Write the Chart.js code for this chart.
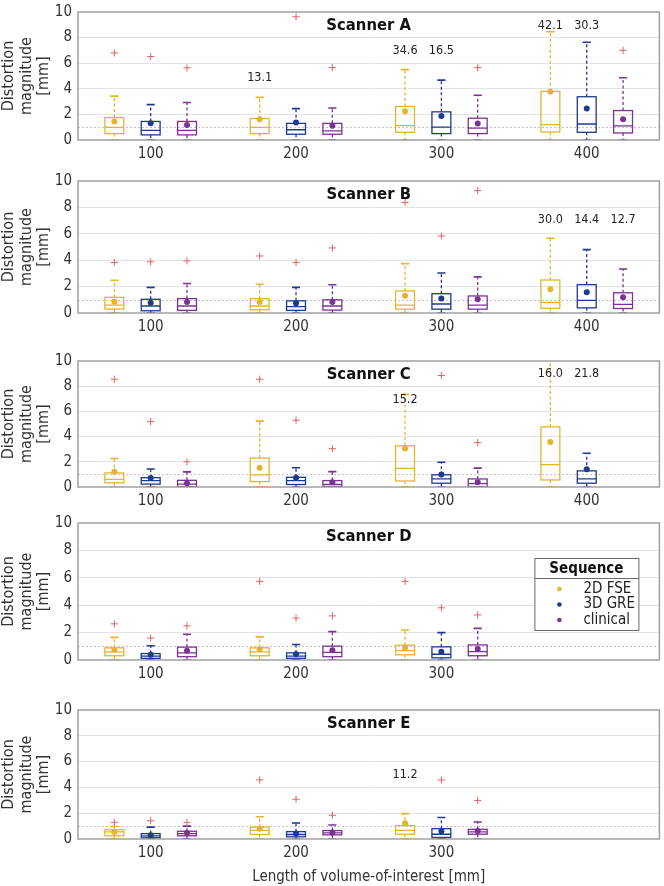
<!DOCTYPE html>
<html><head><meta charset="utf-8">
<script src="https://cdn.jsdelivr.net/npm/chart.js@4.4.1/dist/chart.umd.min.js"></script>
<style>
html,body{margin:0;padding:0;background:#fff;width:664px;height:886px;overflow:hidden;position:relative}
.panel{position:absolute;left:0;width:664px}
</style></head><body>
<script>
// ---------------- DATA ----------------
const seriesNames = ['2D FSE', '3D GRE', 'clinical'];
const catsABC = [100, 200, 300, 400];
const catsDE = [100, 200, 300];
const yTicks = [0, 2, 4, 6, 8, 10];
const refLineValue = 1;

// Scanner A  (rows: 2D FSE, 3D GRE, clinical; cols: 100,200,300,400)
const A_low  = [[0,0,0,0],[0,0,0,0],[0,0,0,0]];
const A_q1   = [[0.50,0.50,0.60,0.63],[0.40,0.45,0.50,0.60],[0.40,0.45,0.50,0.55]];
const A_med  = [[0.98,0.98,1.12,1.20],[0.75,0.80,1.00,1.25],[0.75,0.72,0.93,1.10]];
const A_q3   = [[1.75,1.68,2.62,3.80],[1.45,1.30,2.20,3.38],[1.45,1.30,1.70,2.30]];
const A_high = [[3.43,3.33,5.50,8.46],[2.76,2.45,4.68,7.64],[2.93,2.50,3.50,4.86]];
const A_mean = [[1.45,1.63,2.25,3.76],[1.30,1.36,1.88,2.46],[1.18,1.12,1.28,1.63]];
const A_outliers = [[0,0,6.80],[0,1,6.52],[0,2,5.64],[1,1,9.63],[1,2,5.66],[2,2,5.66],[3,2,7.00]];
const A_notes = [[1,0,'13.1',4.90],[2,0,'34.6',7.00],[2,1,'16.5',7.00],[3,0,'42.1',8.96],[3,1,'30.3',8.96]];

// Scanner B
const B_low  = [[0,0,0,0],[0,0,0,0],[0,0,0,0]];
const B_q1   = [[0.30,0.25,0.29,0.36],[0.17,0.20,0.29,0.39],[0.20,0.22,0.29,0.34]];
const B_med  = [[0.60,0.53,0.60,0.80],[0.53,0.48,0.68,0.95],[0.53,0.53,0.60,0.66]];
const B_q3   = [[1.19,1.09,1.67,2.50],[1.04,0.92,1.46,2.15],[1.09,1.00,1.29,1.53]];
const B_high = [[2.48,2.18,3.74,5.66],[1.94,1.94,3.03,4.80],[2.23,2.14,2.74,3.33]];
const B_mean = [[0.85,0.83,1.31,1.80],[0.78,0.73,1.09,1.58],[0.83,0.83,1.04,1.19]];
const B_outliers = [[0,0,3.83],[0,1,3.88],[0,2,3.95],[1,0,4.32],[1,1,3.83],[1,2,4.93],[2,0,8.37],[2,1,5.83],[2,2,9.27]];
const B_notes = [[3,0,'30.0',7.04],[3,1,'14.4',7.04],[3,2,'12.7',7.04]];

// Scanner C (no clinical at 400)
const C_low  = [[0,0,0,0],[0,0,0,0],[0,0,0,null]];
const C_q1   = [[0.33,0.43,0.48,0.56],[0.23,0.20,0.30,0.30],[0.02,0.02,0.02,null]];
const C_med  = [[0.61,0.97,1.48,1.78],[0.50,0.51,0.64,0.64],[0.23,0.20,0.26,null]];
const C_q3   = [[1.12,2.30,3.27,4.77],[0.74,0.77,0.97,1.28],[0.53,0.51,0.64,null]];
const C_high = [[2.26,5.23,7.35,10.5],[1.43,1.53,1.96,2.68],[1.20,1.22,1.50,null]];
const C_mean = [[1.22,1.53,3.06,3.57],[0.72,0.74,1.00,1.40],[0.30,0.38,0.38,null]];
const C_outliers = [[0,0,8.55],[0,1,5.19],[0,2,2.00],[1,0,8.55],[1,1,5.30],[1,2,3.04],[2,1,8.85],[2,2,3.52]];
const C_notes = [[2,0,'15.2',6.94],[3,0,'16.0',8.98],[3,1,'21.8',8.98]];

// Scanner D (cols: 100,200,300)
const D_low  = [[0,0,0],[0,0,0],[0,0,0]];
const D_q1   = [[0.31,0.31,0.38],[0.12,0.12,0.16],[0.24,0.24,0.31]];
const D_med  = [[0.59,0.59,0.68],[0.28,0.28,0.42],[0.52,0.56,0.61]];
const D_q3   = [[0.89,0.89,1.08],[0.47,0.52,0.96],[0.94,1.01,1.10]];
const D_high = [[1.65,1.69,2.19],[1.04,1.13,2.00],[1.88,2.07,2.31]];
const D_mean = [[0.75,0.78,0.87],[0.38,0.42,0.61],[0.68,0.71,0.80]];
const D_outliers = [[0,0,2.64],[0,1,1.60],[0,2,2.49],[1,0,5.74],[1,1,3.06],[1,2,3.22],[2,0,5.74],[2,1,3.81],[2,2,3.29]];
const D_notes = [];

// Scanner E
const E_low  = [[0,0,0],[0,0,0],[0,0,0]];
const E_q1   = [[0.25,0.35,0.37],[0.10,0.17,0.12],[0.25,0.32,0.37]];
const E_med  = [[0.55,0.67,0.67],[0.25,0.35,0.37],[0.42,0.47,0.55]];
const E_q3   = [[0.72,0.92,1.04],[0.42,0.57,0.80],[0.60,0.65,0.75]];
const E_high = [[0.97,1.72,1.97],[0.92,1.24,1.67],[1.00,1.09,1.32]];
const E_mean = [[0.55,0.80,1.22],[0.30,0.42,0.60],[0.47,0.50,0.62]];
const E_outliers = [[0,0,1.29],[0,1,1.42],[0,2,1.29],[1,0,4.58],[1,1,3.08],[1,2,1.84],[2,1,4.58],[2,2,2.99]];
const E_notes = [[2,0,'11.2',4.98]];

// ---------------- STYLE ----------------
const FONT = '"DejaVu Sans Condensed", "DejaVu Sans", sans-serif';
const seriesColors = ['#e6b32e', '#1d3a8f', '#7b3294'];
const outlierColor = '#e36262';
const OFF = [-25, 0, 25];      // x offset (axis units) of each series within a group
const BOX_HALF = 6.5;          // half box width (axis units)
const CAP_HALF = 2.8;          // half cap width (axis units)

const panels = [
  {title:'Scanner A', cats:catsABC, low:A_low, q1:A_q1, med:A_med, q3:A_q3, high:A_high, mean:A_mean, outliers:A_outliers, notes:A_notes, top:7,   bottom:140},
  {title:'Scanner B', cats:catsABC, low:B_low, q1:B_q1, med:B_med, q3:B_q3, high:B_high, mean:B_mean, outliers:B_outliers, notes:B_notes, top:176, bottom:313},
  {title:'Scanner C', cats:catsABC, low:C_low, q1:C_q1, med:C_med, q3:C_q3, high:C_high, mean:C_mean, outliers:C_outliers, notes:C_notes, top:356, bottom:487},
  {title:'Scanner D', cats:catsDE,  low:D_low, q1:D_q1, med:D_med, q3:D_q3, high:D_high, mean:D_mean, outliers:D_outliers, notes:D_notes, top:518, bottom:660, legend:true},
  {title:'Scanner E', cats:catsDE,  low:E_low, q1:E_q1, med:E_med, q3:E_q3, high:E_high, mean:E_mean, outliers:E_outliers, notes:E_notes, top:705, bottom:839, xTitle:true},
];

function boxPlugin(cfg){
  return {
    id:'boxes',
    beforeDatasetsDraw(chart){
      const {ctx, chartArea:a, scales:{x, y}} = chart;
      ctx.save();
      ctx.beginPath(); ctx.rect(a.left, a.top, a.right-a.left, a.bottom-a.top); ctx.clip();
      // dotted reference line
      const yr = Math.round(y.getPixelForValue(refLineValue)) + 0.5;
      ctx.strokeStyle = '#c4c4c4'; ctx.lineWidth = 1; ctx.setLineDash([2,2]);
      ctx.beginPath(); ctx.moveTo(a.left, yr); ctx.lineTo(a.right, yr); ctx.stroke();
      seriesNames.forEach((n, s) => {
        cfg.cats.forEach((c, i) => {
          const q1 = cfg.q1[s][i];
          if (q1 == null) return;
          const col = seriesColors[s];
          const xc = x.getPixelForValue(c + OFF[s]);
          const xl = x.getPixelForValue(c + OFF[s] - BOX_HALF);
          const xr = x.getPixelForValue(c + OFF[s] + BOX_HALF);
          const cl = x.getPixelForValue(c + OFF[s] - CAP_HALF);
          const cr = x.getPixelForValue(c + OFF[s] + CAP_HALF);
          const yq1 = y.getPixelForValue(q1), yq3 = y.getPixelForValue(cfg.q3[s][i]);
          const ym = y.getPixelForValue(cfg.med[s][i]);
          const yl = y.getPixelForValue(cfg.low[s][i]), yh = y.getPixelForValue(cfg.high[s][i]);
          ctx.strokeStyle = col; ctx.lineWidth = 1.3;
          // whiskers (dashed)
          ctx.setLineDash([3,2.5]);
          ctx.beginPath();
          ctx.moveTo(xc, yq3); ctx.lineTo(xc, yh);
          ctx.moveTo(xc, yq1); ctx.lineTo(xc, yl);
          ctx.stroke();
          // caps
          ctx.setLineDash([]);
          ctx.lineWidth = 1.6;
          ctx.beginPath();
          ctx.moveTo(cl, yh); ctx.lineTo(cr, yh);
          ctx.moveTo(cl, yl); ctx.lineTo(cr, yl);
          ctx.stroke();
          // box
          ctx.lineWidth = 1.3;
          ctx.strokeRect(xl, yq3, xr - xl, yq1 - yq3);
          // median
          ctx.beginPath(); ctx.moveTo(xl, ym); ctx.lineTo(xr, ym); ctx.stroke();
        });
      });
      ctx.restore();
    },
    afterDraw(chart){
      const {ctx, chartArea:a, scales:{x, y}} = chart;
      ctx.save();
      // frame
      ctx.strokeStyle = '#9b9b9b'; ctx.lineWidth = 1.4; ctx.setLineDash([]);
      ctx.strokeRect(a.left, a.top, a.right - a.left, a.bottom - a.top);
      // title
      ctx.fillStyle = '#111';
      ctx.font = 'bold 16.5px ' + FONT;
      ctx.textAlign = 'center'; ctx.textBaseline = 'middle';
      ctx.fillText(cfg.title, (a.left + a.right) / 2, a.top + 14);
      // notes for off-scale values
      ctx.font = '12.5px ' + FONT;
      ctx.fillStyle = '#222';
      cfg.notes.forEach(nt => {
        const xp = x.getPixelForValue(cfg.cats[nt[0]] + OFF[nt[1]]);
        const yp = y.getPixelForValue(nt[3]);
        ctx.fillText(nt[2], xp, yp);
      });
      // legend
      if (cfg.legend) {
        const w = 104, h = 72;
        const lx = a.right - 21 - w, ly = a.top + 35;
        ctx.fillStyle = '#fff';
        ctx.fillRect(lx, ly, w, h);
        ctx.strokeStyle = '#6a6a6a'; ctx.lineWidth = 1;
        ctx.strokeRect(lx + 0.5, ly + 0.5, w, h);
        ctx.beginPath(); ctx.moveTo(lx + 0.5, ly + 20.5); ctx.lineTo(lx + w + 0.5, ly + 20.5); ctx.stroke();
        ctx.fillStyle = '#111';
        ctx.font = 'bold 15px ' + FONT;
        ctx.textAlign = 'center';
        ctx.fillText('Sequence', lx + w / 2, ly + 11);
        ctx.font = '15px ' + FONT;
        ctx.textAlign = 'left';
        seriesNames.forEach((n, s) => {
          const yy = ly + 31 + s * 15.5;
          ctx.fillStyle = seriesColors[s];
          ctx.beginPath(); ctx.arc(lx + 25, yy, 2.3, 0, Math.PI * 2); ctx.fill();
          ctx.fillStyle = '#222';
          ctx.fillText(n, lx + 49, yy);
        });
      }
      ctx.restore();
    }
  };
}

function makePanel(cfg){
  const padTop = 10;
  const xh = cfg.xTitle ? 47 : 26;
  const div = document.createElement('div');
  div.className = 'panel';
  div.style.top = (cfg.top - padTop) + 'px';
  div.style.height = ((cfg.bottom - cfg.top) + padTop + xh) + 'px';
  const canvas = document.createElement('canvas');
  div.appendChild(canvas);
  document.body.appendChild(div);

  const datasets = seriesNames.map((n, s) => ({
    label: n,
    data: cfg.cats.map((c, i) => cfg.mean[s][i] == null ? null : {x: c + OFF[s], y: cfg.mean[s][i]}).filter(p => p),
    backgroundColor: seriesColors[s], borderColor: seriesColors[s],
    pointRadius: 3, pointHoverRadius: 3, borderWidth: 0, showLine: false
  }));
  datasets.push({
    label: 'outliers',
    data: cfg.outliers.map(o => ({x: cfg.cats[o[0]] + OFF[o[1]], y: o[2]})),
    pointStyle: 'cross', pointRadius: 3.6, pointHoverRadius: 3.6,
    borderColor: outlierColor, backgroundColor: outlierColor, borderWidth: 1, showLine: false
  });

  new Chart(canvas, {
    type: 'scatter',
    data: {datasets},
    options: {
      responsive: true, maintainAspectRatio: false, animation: false, events: [],
      layout: {padding: {top: padTop, right: 2, left: 0, bottom: 0}},
      plugins: {legend: {display: false}, tooltip: {enabled: false}},
      scales: {
        x: {
          type: 'linear', min: 50, max: 450,
          afterBuildTicks: ax => { ax.ticks = cfg.cats.map(v => ({value: v})); },
          afterFit: ax => { ax.height = xh; },
          ticks: {font: {family: FONT, size: 15}, color: '#333', padding: 5, callback: v => String(v)},
          grid: {display: false, drawTicks: false},
          border: {display: false},
          title: cfg.xTitle ? {display: true, text: 'Length of volume-of-interest [mm]', font: {family: FONT, size: 15}, color: '#333', padding: {top: 0, bottom: 0}} : {display: false}
        },
        y: {
          min: 0, max: 10,
          afterBuildTicks: ax => { ax.ticks = yTicks.map(v => ({value: v})); },
          afterFit: ax => { ax.width = 78; },
          ticks: {font: {family: FONT, size: 15}, color: '#333', padding: 6},
          grid: {drawTicks: false, lineWidth: 1, color: c => (c.tick && (c.tick.value === 0 || c.tick.value === 10)) ? 'rgba(0,0,0,0)' : '#e3e3e3'},
          border: {display: false},
          title: {display: true, text: ['Distortion', 'magnitude', '[mm]'], font: {family: FONT, size: 16, lineHeight: 1.1}, color: '#333', padding: {top: 0, bottom: 0}}
        }
      }
    },
    plugins: [boxPlugin(cfg)]
  });
}

panels.forEach(makePanel);
</script>
</body></html>
